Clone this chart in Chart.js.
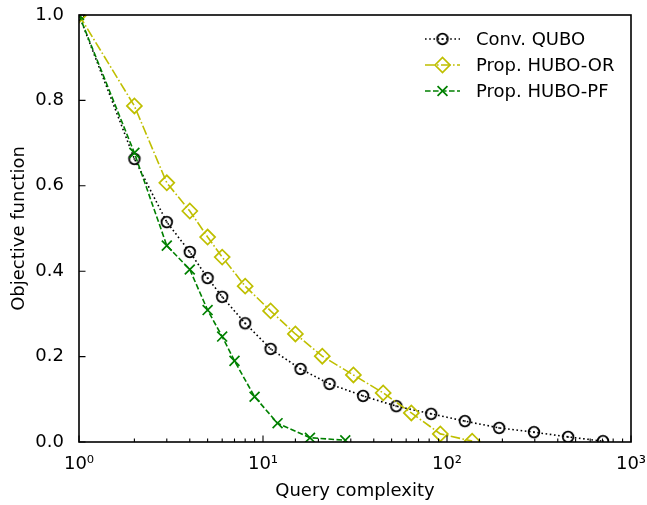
<!DOCTYPE html>
<html>
<head>
<meta charset="utf-8">
<script src="https://cdn.jsdelivr.net/npm/chart.js@4.4.1/dist/chart.umd.min.js"></script>
<style>
html, body { margin: 0; padding: 0; background: #fff; }
</style>
</head>
<body>
<canvas id="chart" width="647" height="505"></canvas>
<script>
// values
var quboX = [1, 2, 3, 4, 5, 6, 8, 11, 16, 23, 35, 53, 82, 125, 192, 297, 455, 704];
var quboY = [1.0, 0.663, 0.515, 0.445, 0.384, 0.340, 0.278, 0.218, 0.171, 0.136, 0.108, 0.084, 0.066, 0.049, 0.033, 0.023, 0.012, 0.002];
var orX = [1, 2, 3, 4, 5, 6, 8, 11, 15, 21, 31, 45, 64, 92, 137];
var orY = [1.0, 0.787, 0.607, 0.541, 0.480, 0.433, 0.365, 0.307, 0.253, 0.201, 0.157, 0.115, 0.068, 0.019, 0.002];
var pfX = [1, 2, 3, 4, 5, 6, 7, 9, 12, 18, 28];
var pfY = [1.0, 0.677, 0.460, 0.404, 0.309, 0.247, 0.190, 0.106, 0.044, 0.010, 0.004];
var seriesNames = ["Conv. QUBO", "Prop. HUBO-OR", "Prop. HUBO-PF"];
var yTicks = [0, 0.2, 0.4, 0.6, 0.8, 1.0];
var sup = ["\u2070", "\u00b9", "\u00b2", "\u00b3"];

var OLIVE = "#bfbf00";
var GREEN = "#008000";

function pts(xs, ys) {
  var out = [];
  for (var i = 0; i < xs.length; i++) out.push({x: xs[i], y: ys[i]});
  return out;
}

// open circle with a small dot in the middle
function circleMarker() {
  var c = document.createElement('canvas');
  c.width = 16; c.height = 16;
  var g = c.getContext('2d');
  g.strokeStyle = '#000';
  g.lineWidth = 1.8;
  g.beginPath(); g.arc(8, 8, 5.3, 0, Math.PI * 2); g.stroke();
  g.fillStyle = '#000';
  g.beginPath(); g.arc(8, 8, 0.9, 0, Math.PI * 2); g.fill();
  return c;
}
var circleImg = circleMarker();

function drawMarker(ctx, ds, x, y) {
  ctx.save();
  ctx.setLineDash([]);
  ctx.strokeStyle = ds.pointBorderColor;
  ctx.lineWidth = ds.pointBorderWidth;
  var r = ds.pointRadius;
  if (ds.pointStyle === 'rectRot') {
    ctx.beginPath();
    ctx.moveTo(x - r, y); ctx.lineTo(x, y - r); ctx.lineTo(x + r, y); ctx.lineTo(x, y + r);
    ctx.closePath(); ctx.stroke();
  } else if (ds.pointStyle === 'crossRot') {
    var d = r * Math.SQRT1_2;
    ctx.beginPath();
    ctx.moveTo(x - d, y - d); ctx.lineTo(x + d, y + d);
    ctx.moveTo(x - d, y + d); ctx.lineTo(x + d, y - d);
    ctx.stroke();
  } else {
    ctx.drawImage(ds.pointStyle, x - ds.pointStyle.width / 2, y - ds.pointStyle.height / 2);
  }
  ctx.restore();
}

function noPad(s) {
  s.paddingLeft = 0; s.paddingRight = 0; s.paddingTop = 0; s.paddingBottom = 0;
}

var frameAndTicks = {
  id: 'frameAndTicks',
  afterDatasetsDraw: function(chart) {
    var ctx = chart.ctx, a = chart.chartArea;
    var xs = chart.scales.x, ys = chart.scales.y;
    ctx.save();
    ctx.strokeStyle = '#000';
    ctx.lineWidth = 1.6;
    ctx.setLineDash([]);
    ctx.strokeRect(a.left, a.top, a.right - a.left, a.bottom - a.top);
    ctx.lineWidth = 1.1;
    ctx.beginPath();
    xs.ticks.forEach(function(t) {
      var e = Math.log10(t.value);
      var major = Math.abs(e - Math.round(e)) < 1e-9;
      var px = xs.getPixelForValue(t.value);
      ctx.moveTo(px, a.bottom);
      ctx.lineTo(px, a.bottom - (major ? 6.5 : 3.5));
    });
    yTicks.forEach(function(v) {
      var py = ys.getPixelForValue(v);
      ctx.moveTo(a.left, py);
      ctx.lineTo(a.left + 6.5, py);
    });
    ctx.stroke();
    ctx.restore();
  },
  afterDraw: function(chart) {
    var ctx = chart.ctx, a = chart.chartArea;
    var x0 = a.right - 206, y0 = a.top + 24;
    chart.data.datasets.forEach(function(ds, i) {
      var y = y0 + i * 26;
      ctx.save();
      ctx.strokeStyle = ds.borderColor;
      ctx.lineWidth = ds.borderWidth;
      ctx.setLineDash(ds.borderDash);
      ctx.beginPath(); ctx.moveTo(x0, y); ctx.lineTo(x0 + 35, y); ctx.stroke();
      ctx.restore();
      drawMarker(ctx, ds, x0 + 17.5, y);
      ctx.save();
      ctx.fillStyle = '#000';
      ctx.font = '18px "DejaVu Sans"';
      ctx.textBaseline = 'middle';
      ctx.fillText(ds.label, x0 + 51, y + 1);
      ctx.restore();
    });
  }
};

Chart.defaults.font.family = '"DejaVu Sans"';
Chart.defaults.font.size = 18;
Chart.defaults.color = '#000';

new Chart(document.getElementById('chart').getContext('2d'), {
  type: 'scatter',
  data: {
    datasets: [
      {
        label: seriesNames[0],
        data: pts(quboX, quboY),
        showLine: true,
        borderColor: '#000',
        borderWidth: 1.6,
        borderDash: [1.6, 2.6],
        pointStyle: circleImg,
        pointRadius: 5.3,
        pointBorderColor: '#000',
        pointBorderWidth: 1.8,
        backgroundColor: 'rgba(0,0,0,0)',
        clip: 0,
        order: 3
      },
      {
        label: seriesNames[1],
        data: pts(orX, orY),
        showLine: true,
        borderColor: OLIVE,
        borderWidth: 1.6,
        borderDash: [9.6, 2.4, 1.6, 2.4],
        pointStyle: 'rectRot',
        pointRadius: 7.5,
        pointBorderColor: OLIVE,
        pointBorderWidth: 1.7,
        pointBackgroundColor: 'rgba(0,0,0,0)',
        backgroundColor: 'rgba(0,0,0,0)',
        clip: 0,
        order: 2
      },
      {
        label: seriesNames[2],
        data: pts(pfX, pfY),
        showLine: true,
        borderColor: GREEN,
        borderWidth: 1.6,
        borderDash: [5.6, 2.4],
        pointStyle: 'crossRot',
        pointRadius: 7,
        pointBorderColor: GREEN,
        pointBorderWidth: 1.7,
        backgroundColor: 'rgba(0,0,0,0)',
        clip: 0,
        order: 1
      }
    ]
  },
  options: {
    responsive: false,
    animation: false,
    layout: { padding: { top: 15, right: 16, left: 0, bottom: 0 } },
    plugins: { legend: { display: false }, tooltip: { enabled: false } },
    elements: { line: { tension: 0 } },
    scales: {
      x: {
        type: 'logarithmic',
        min: 1,
        max: 1000,
        grid: { display: false, drawTicks: false },
        border: { display: false },
        afterFit: function(s) { s.height = 63; noPad(s); },
        ticks: {
          autoSkip: false,
          maxRotation: 0,
          padding: 12,
          callback: function(v) {
            var e = Math.log10(v);
            if (Math.abs(e - Math.round(e)) < 1e-9) return '10' + sup[Math.round(e)];
            return '';
          }
        },
        title: { display: true, text: 'Query complexity', padding: { top: 4, bottom: 3 } }
      },
      y: {
        min: 0,
        max: 1,
        grid: { display: false, drawTicks: false },
        border: { display: false },
        afterFit: function(s) { s.width = 79; noPad(s); },
        afterBuildTicks: function(s) { s.ticks = yTicks.map(function(v) { return {value: v}; }); },
        ticks: {
          padding: 15,
          callback: function(v) { return Number(v).toFixed(1); }
        },
        title: { display: true, text: 'Objective function', padding: { top: 9, bottom: 4 } }
      }
    }
  },
  plugins: [frameAndTicks]
});
</script>
</body>
</html>
